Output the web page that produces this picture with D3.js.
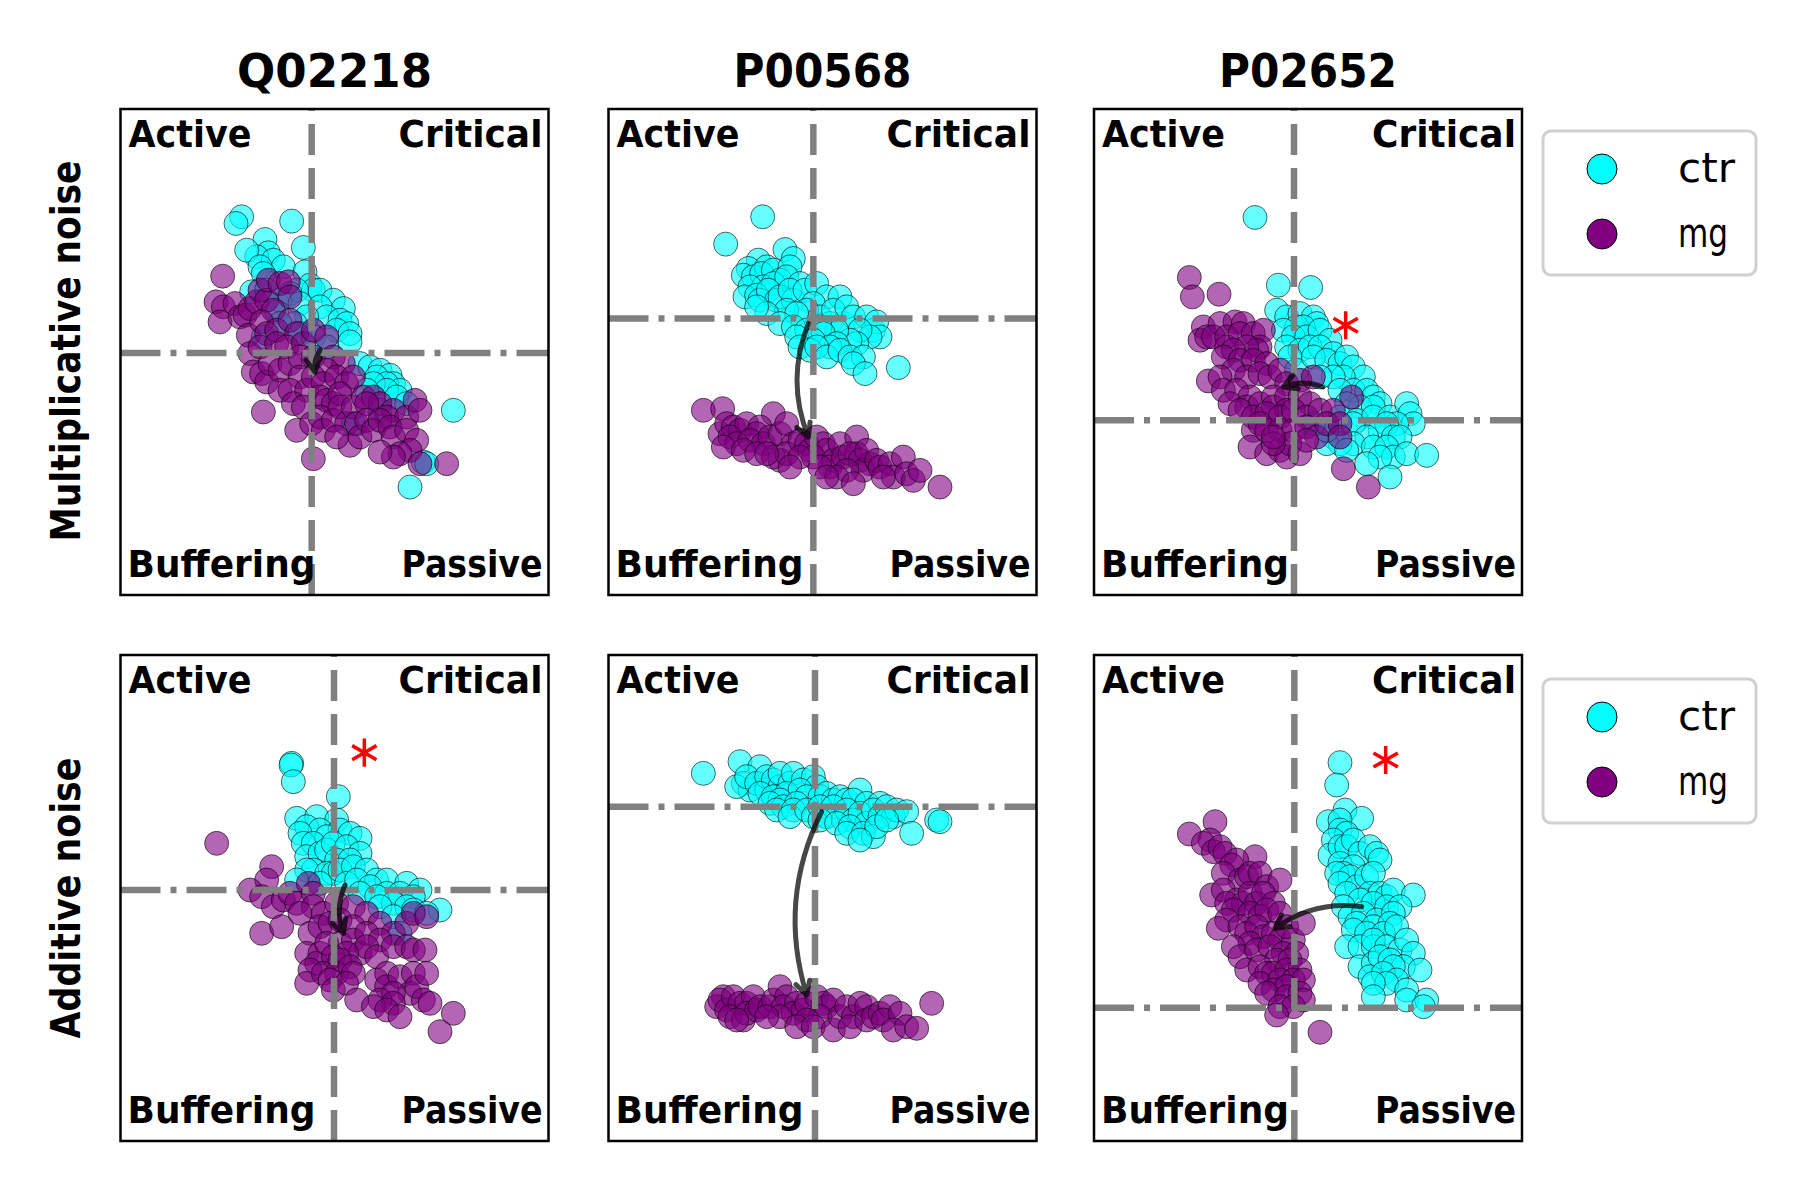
<!DOCTYPE html>
<html>
<head>
<meta charset="utf-8">
<script src="https://cdn.jsdelivr.net/npm/d3@7"></script>
<style>
  html, body { margin: 0; padding: 0; background: #fff; }
  text { font-family: "DejaVu Sans", sans-serif; }
</style>
</head>
<body>
<svg id="chart" width="1800" height="1200"></svg>
<script>
// ---------------- data ----------------
const proteins = ["Q02218", "P00568", "P02652"];
const noiseTypes = ["Multiplicative noise", "Additive noise"];
const quadrantNames = ["Active", "Critical", "Buffering", "Passive"];
const seriesNames = ["ctr", "mg"];
const seriesColors = ["#00ffff", "#800080"];

// Q02218, multiplicative noise
const ctrQ02218Mult = [[18.5,88],[16.8,86],[33.5,86.7],[25.5,81.2],[37,78.8],[26.5,77.2],[23,76],[20,78],[28,75],[31,73],[24,73],[37.5,71.5],[25,71],[39,67.5],[40,66],[21.5,65.5],[26,66],[35,66],[42,66],[33,65],[30,63],[36,62],[46,63],[49,60.5],[42,61],[29,59.5],[44,58],[38,58],[48,57],[50,56],[34.5,56],[30,56],[47,54],[36,53],[51,53],[25,52],[40,52],[51,50.5],[44,49],[54,44],[57,43],[60,42],[63,40.5],[59,40],[64,38],[62,38],[58,38],[66,36],[62,36],[56,36],[65,34],[68,32],[60,30],[82,30],[52,26],[73,14.5],[74,14],[69,7]];
const mgQ02218Mult = [[12.8,70.2],[10.8,62.5],[13,61],[12,56.5],[16.5,62],[18,58],[19.5,58.5],[21,60.5],[23,62.5],[24,66],[26,63],[26.5,69],[30,68],[32.5,68.5],[33,64],[28,60],[20.5,52.5],[24.5,56.5],[26,53],[29,54],[33,57],[35,53],[21,47],[24,49],[29,50],[32,49],[37,50],[40,54],[44,52],[22,41.5],[24.5,41],[26,38.5],[27,44],[30,42],[33,44],[36,46],[40,46],[46,46],[49,44],[36,40],[44,42],[25,29.5],[30,36],[33,36],[38,36],[34,32],[37,31],[40,40],[43,38],[47,40],[50,38],[52,40],[42,34],[44,33],[46,32],[48,35],[35,24],[39.5,26],[42,28],[43,24],[46,27],[48,31],[50,26],[52,31],[53,26],[55,34],[58,34],[60,32],[56,32],[64,30],[62,28],[68,28],[40,15.5],[51,19.5],[47,22],[54,22],[56,27],[58,24],[60,27],[63,25],[64,22],[68,24],[70.5,33],[72,30],[71,21],[69,18],[66,17],[64,16],[60,17.5],[72,14],[80,14]];

// P00568, multiplicative noise
const ctrP00568Mult = [[24.8,88],[13.7,79.8],[31.5,78.2],[34,75.5],[23.5,75],[20.5,72.5],[19,70.5],[22,70],[26,73],[24.5,71],[28,72],[33,73],[30,69],[25,67],[28,68],[32,70],[36,68],[21,67],[19.5,64],[23,64.5],[24,63],[26.5,66],[29,63],[30,64],[34,63],[33,66],[37.5,66],[41,68],[44,64],[48,64],[40,62],[38,60],[32,60],[35,59],[26,59],[23,61],[30,56],[34,55],[38,54],[35,52],[42,58],[45,56],[49,56],[46,60],[50,61],[52,58],[56,58],[58,54],[59,56.5],[60,52],[57,52],[54,54],[53,50],[51,51],[47,54],[42,55],[43,53],[40,51],[47,50],[45,49],[36,49],[39,48],[41,49],[44,46],[48,48],[51,46],[55,46],[52,44],[55.5,41],[65.5,42.8]];
const mgP00568Mult = [[7,30],[12.8,30.5],[28,29],[12,23],[14,26],[16,25],[18,24],[20,26],[24,25],[23,23],[15,22],[17,20],[13,19],[21,21],[25,20],[27,22],[19,18],[23,17],[30,23],[32,26],[34,20],[30,15],[28,16],[32,17],[26,17],[36,21],[38,20],[39,18],[41,22],[43,20],[44,18],[40,16],[46,15],[45,13],[42,13],[36,16],[33,13],[48,20],[49,16],[53,22],[53,17],[51,17],[54,15],[57,14],[55,12],[56,18],[59,15],[50,12],[47,10],[52,8],[44,10],[60,13],[63,14],[67,16],[64,10],[68,11],[70,9],[72,12],[78,7],[61,10]];

// P02652, multiplicative noise
const ctrP02652Mult = [[34.5,87.8],[41.5,67.5],[51.2,66.8],[41,60],[44,58],[48,59],[52,58],[53,56],[47,55],[43,54],[49,55],[46,52],[50,52],[54,54],[57,51],[44,49],[48,48],[51,49],[54,49],[58,47],[45,46],[47,42],[52,46],[56,45],[60,44],[62,46],[64,43],[67,40],[61,40],[58,40],[54,40],[64,36],[60,36],[68,36],[70,34],[72,32],[66,31],[70,31],[62,32],[60,28],[65,27],[70,28],[75,28],[80,32],[81,29],[82,26],[77,26],[74,26],[64,26],[72,24],[68,22],[58,22],[76,22],[78,22],[64,20],[60,20],[56,20],[62,18],[70,19],[74,19],[76,16],[80,17],[86,16.5],[72,16],[68,14],[75,10],[56,24],[52,26]];
const mgP02652Mult = [[14.8,69.8],[15.7,64],[23.7,64.8],[19,55],[18,51],[20,52],[24,56],[28.5,56.5],[31,56],[22,52],[26,52],[26,49],[30,53],[34,53],[37,54],[36,49],[35,48],[32,49],[28,48],[25,46],[30,45],[34,45],[38,44],[28,42],[32,40],[36,41],[39,40],[42,42],[44,38],[48,39],[52,40],[20.5,38.8],[24,40],[25,36],[29,36],[33,34],[27,32],[32,31],[36,32],[40,34],[40,31],[44,34],[44,30],[48,34],[51,32],[30,30],[34,28],[38,29],[42,28],[46,30],[50,28],[54,30],[58,30],[63.5,34],[34,24],[36,26],[38,24],[42,24],[46,24],[50,25],[53,22],[56,26],[60,26],[33,19],[38,17],[42,18],[44,16],[45,20],[48,17],[40,20],[40,22],[50,21],[60,22],[61,12.5],[68.5,7]];

// Q02218, additive noise
const ctrQ02218Add = [[33.5,89],[33.3,88.5],[34,83.5],[47.5,79],[35,72.5],[41,73],[47,72],[38,70],[42,69],[48,69],[36,68],[44,67],[51,68],[54,66.5],[37,65],[40,65],[38,61],[42,62],[44,63],[46,65],[50,64],[54,62],[47,60],[51,60],[40,57],[38,57],[44,56],[46,56],[48,57],[52,58],[56,57],[35,54],[42,53],[50,53],[53,54],[59,54],[62,54],[57,52],[68,53],[72,51],[54,50],[62,50],[66,50],[70,49],[59,49],[64,47],[60,46],[68,46],[70,45],[78,45],[74,44],[64,43],[66,38]];
const mgQ02218Add = [[11,65],[27.5,58],[26,54],[21,51],[24.5,49],[28,46],[31,48],[33,50],[35,47],[24.5,38],[30.5,40],[38.5,53],[40,50],[40,46],[36,44],[43,44],[47,47],[52,46],[56,44],[60,41],[64,38],[68,41],[70,44],[74,43],[39,38],[42,40],[45,41],[48,42],[52,40],[48,35],[52,36],[54,32],[56,38],[60,36],[56,34],[50,32],[38,32],[42,32],[41,29],[39,27],[38,23],[44,35],[46,31],[48,30],[43,26],[47,26],[45,24],[51,28],[52,26],[46,21],[50,23],[59,31],[64,34],[68,34],[70,33],[73.5,33],[59,24],[62,26],[62,22],[66,25],[70,26],[69,20],[71,22],[73,18],[74,26],[64,20],[60,18],[64,17],[53,18],[58,16],[62,15],[66,13],[75,17],[82,14],[78,8.5]];

// P00568, additive noise
const ctrP00568Add = [[7,86],[18,89.5],[24,88],[19,83],[21,81],[17,82],[20,85],[23,83],[26,81],[26,85],[28,84],[30,82],[30,86],[33,83],[34,86],[37,84],[40,85],[41,82],[24,80],[28,79],[32,80],[36,81],[38,79],[42,79],[44,80],[46,78],[48,79],[50,78],[54,81],[52,78],[56,77],[60,77],[30,78],[27,77],[31,76],[35,77],[29,75],[34,75],[33,73],[38,75],[40,73],[42,76],[44,73],[46,76],[49,72],[50,75],[52,72],[54,74],[56,71],[58,75],[60,73],[62,76],[64,73],[65,75],[68,74.5],[42,72],[47,71],[51,70],[50,68],[55,68],[58,67],[59,70],[62,72],[54,66],[69.5,68],[77,72],[78,71.5]];
const mgP00568Add = [[13,19],[11,16],[12,18],[14,15],[16,19],[18,17],[15,13],[19,12],[20,17],[22,19],[20,14],[23,15],[24,16],[27,16],[28,18],[30,22],[32,19],[31,16],[35,17],[34,14],[37,15],[30,13],[26,13],[17,12],[38,17],[41,19],[43,17],[44,16],[46,18],[42,13],[38,12],[35,10],[40,10],[46,9],[48,13],[50,16],[52,13],[51,10],[54,17],[56,16],[56,12],[58,13],[60,14],[63,16],[61,12],[66,14],[64,9],[68,10],[71,9.5],[75.5,17]];

// P02652, additive noise
const ctrP02652Add = [[60,89.2],[59,82.5],[61.5,75],[56.5,71.5],[66.5,72.5],[60,72],[60,69],[62,68],[58,66],[57,61.5],[60,64],[62,64],[64,66],[66,62],[69,64],[71,62],[72,60],[60,59],[64,58],[61,56],[59,56],[63,55],[60,53],[65,52],[68,55],[70,56],[62,50],[69,50],[72,50],[74,49],[76,51],[82,49.5],[66,48],[61,46],[70,47],[74,46],[78,46],[63,43],[67,44],[71,42],[76,44],[65,41],[70,40],[75,41],[64,39],[68,38],[73,38],[77,40],[62,34],[66,34],[70,34],[70,36],[74,34],[78,33],[80,36],[82,32],[66,28],[70,29],[72,31],[75,30],[79,28],[76,28],[84,27],[69,25],[73,26],[77,24],[74,23],[70,23],[70,19],[80,21],[80,18],[86,18],[85,16]];
const mgP02652Add = [[14.8,67.8],[22.5,71.5],[21,66],[19,65],[22,62.5],[24,64],[25.5,62],[34.5,61],[29,60],[27.5,58.5],[25,56],[30,54],[32,55],[33,56],[36,56],[38,52],[42,54],[21.5,49.5],[25,51],[29,48],[26,47],[31,47],[33,50],[35,47],[37,50],[40,47],[28,45],[33,44],[36,43],[38,45],[42,44],[26,42],[23.5,39.5],[30,40],[32,38],[35,40],[37,37],[40,38],[42,36],[46,36],[44,40],[49,41],[33,35],[28,34],[30,31],[35,33],[39,34],[43,32],[47,32],[41,30],[45,30],[32,27],[36,28],[38,26],[40,26],[44,27],[48,27],[36,23],[42,24],[46,24],[49,24],[40,21],[44,22],[38,20],[44,19],[48,20],[49,18],[42,16],[46,16],[41,13.5],[54,8.3]];

// axis limits, quadrant thresholds, shift arrows (ctr -> mg) and significance marks
const xLimits = [[-17.85,110.55],[-21.45,106.95],[-13.8,114.6]];
const yLimits = [[-25.35,120.3],[-24.3,121.5]];
const vThresholds = [[39.5,40,46.2],[46.2,40.5,46.3]];
const hThresholds = [[47.2,57.5,27],[51,76,15.7]];
const shiftArrows = [
  [[42,48,40.5,41.5],[38.5,56,38.5,22],[54.8,37,43,37]],
  [[49.5,52.5,49,38],[42.5,74.5,38,19.5],[66.5,46,40.5,39.5]]
];
const starMarks = [[null,null,[61.7,55.5]],[[55.3,92.2],null,[73.7,90]]];
const seriesData = [
  [[ctrQ02218Mult,mgQ02218Mult],[ctrP00568Mult,mgP00568Mult],[ctrP02652Mult,mgP02652Mult]],
  [[ctrQ02218Add,mgQ02218Add],[ctrP00568Add,mgP00568Add],[ctrP02652Add,mgP02652Add]]
];

// ---------------- layout ----------------
const svg = d3.select("#chart");
svg.append("rect").attr("width",1800).attr("height",1200).attr("fill","#fff");

const panelW = 428, panelH = 486;
const colX = [120.5, 608.5, 1094];
const rowY = [109, 655];

const quadLabelWidths = {Active:123, Critical:144, Buffering:188, Passive:141};
const titleWidths = [195, 178, 178];

// titles
proteins.forEach((p, c) => {
  svg.append("text")
    .attr("x", colX[c] + panelW/2).attr("y", 87)
    .attr("text-anchor","middle")
    .attr("font-size", 46).attr("font-weight","bold")
    .attr("textLength", titleWidths[c]).attr("lengthAdjust","spacingAndGlyphs")
    .text(p);
});

// row labels
const rowLabelLen = [381, 281];
noiseTypes.forEach((n, r) => {
  const cy = rowY[r] + (r === 0 ? 242 : 243);
  svg.append("text")
    .attr("transform", `translate(80,${cy}) rotate(-90)`)
    .attr("text-anchor","middle")
    .attr("font-size", 40).attr("font-weight","bold")
    .attr("textLength", rowLabelLen[r]).attr("lengthAdjust","spacingAndGlyphs")
    .text(n);
});

for (let r = 0; r < 2; r++) {
  for (let c = 0; c < 3; c++) {
    const x0 = colX[c], y0 = rowY[r];
    const g = svg.append("g").attr("transform", `translate(${x0},${y0})`);
    const xs = d3.scaleLinear().domain(xLimits[c]).range([0, panelW]);
    const ys = d3.scaleLinear().domain(yLimits[r]).range([panelH, 0]);

    const clipId = `clip-${r}-${c}`;
    g.append("clipPath").attr("id", clipId).append("rect").attr("width", panelW).attr("height", panelH);
    const inner = g.append("g").attr("clip-path", `url(#${clipId})`);

    // scatter: ctr first, mg on top
    seriesData[r][c].forEach((pts, si) => {
      inner.append("g").selectAll("circle").data(pts).join("circle")
        .attr("cx", d => xs(d[0])).attr("cy", d => ys(d[1]))
        .attr("r", 12)
        .attr("fill", seriesColors[si]).attr("fill-opacity", 0.6)
        .attr("stroke", "#000").attr("stroke-opacity", 0.6).attr("stroke-width", 1);
    });

    // threshold lines
    const vx = xs(vThresholds[r][c]);
    inner.append("line")
      .attr("x1", vx).attr("x2", vx).attr("y1", panelH).attr("y2", 0)
      .attr("stroke", "#808080").attr("stroke-width", 6.5)
      .attr("stroke-dasharray", "31,13");
    const hy = ys(hThresholds[r][c]);
    inner.append("line")
      .attr("x1", 0).attr("x2", panelW).attr("y1", hy).attr("y2", hy)
      .attr("stroke", "#808080").attr("stroke-width", 6.5)
      .attr("stroke-dasharray", "40,10,6,10");

    // shift arrow (arc3, rad 0.2)
    const a = shiftArrows[r][c];
    const sx = xs(a[0]), sy = ys(a[1]), ex = xs(a[2]), ey = ys(a[3]);
    const dx = ex - sx, dy = ey - sy, rad = 0.2;
    const cx = (sx + ex)/2 - rad*dy, cyy = (sy + ey)/2 + rad*dx;
    const path = d3.path();
    path.moveTo(sx, sy);
    path.quadraticCurveTo(cx, cyy, ex, ey);
    const ang = Math.atan2(ey - cyy, ex - cx);
    const hl = 15, ha = 0.5;
    path.moveTo(ex - hl*Math.cos(ang - ha), ey - hl*Math.sin(ang - ha));
    path.lineTo(ex, ey);
    path.lineTo(ex - hl*Math.cos(ang + ha), ey - hl*Math.sin(ang + ha));
    inner.append("path").attr("d", path.toString())
      .attr("fill","none").attr("stroke","#000").attr("stroke-opacity",0.72)
      .attr("stroke-width",5).attr("stroke-linecap","round").attr("stroke-linejoin","round");

    // significance star
    const st = starMarks[r][c];
    if (st) {
      inner.append("path")
        .attr("d", d3.symbol(d3.symbolAsterisk, 560)())
        .attr("transform", `translate(${xs(st[0])},${ys(st[1])})`)
        .attr("fill","none").attr("stroke","#ff0000").attr("stroke-width",3.5);
    }

    // quadrant labels
    const ql = [
      {t: quadrantNames[0], x: 8, y: 38, anchor: "start"},
      {t: quadrantNames[1], x: panelW - 6, y: 38, anchor: "end"},
      {t: quadrantNames[2], x: 7, y: panelH - 18, anchor: "start"},
      {t: quadrantNames[3], x: panelW - 6, y: panelH - 18, anchor: "end"}
    ];
    ql.forEach(q => {
      g.append("text").attr("x", q.x).attr("y", q.y)
        .attr("text-anchor", q.anchor)
        .attr("font-size", 38).attr("font-weight", "bold")
        .attr("textLength", quadLabelWidths[q.t]).attr("lengthAdjust","spacingAndGlyphs")
        .text(q.t);
    });

    // frame
    g.append("rect").attr("width", panelW).attr("height", panelH)
      .attr("fill","none").attr("stroke","#000").attr("stroke-width",2.5);
  }

  // legend per row
  const ly = rowY[r] + (r === 0 ? 22 : 24);
  const lg = svg.append("g").attr("transform", `translate(1543,${ly})`);
  lg.append("rect").attr("width", 213).attr("height", 144).attr("rx", 8)
    .attr("fill","#fff").attr("stroke","#d0d0d0").attr("stroke-width",3);
  const legendWidths = [57, 50];
  seriesNames.forEach((s, i) => {
    lg.append("circle").attr("cx", 59).attr("cy", 38 + i*65).attr("r", 15)
      .attr("fill", seriesColors[i]).attr("stroke","#000").attr("stroke-width",1);
    lg.append("text").attr("x", 135).attr("y", 51 + i*65)
      .attr("font-size", 40)
      .attr("textLength", legendWidths[i]).attr("lengthAdjust","spacingAndGlyphs")
      .text(s);
  });
}
</script>
</body>
</html>
